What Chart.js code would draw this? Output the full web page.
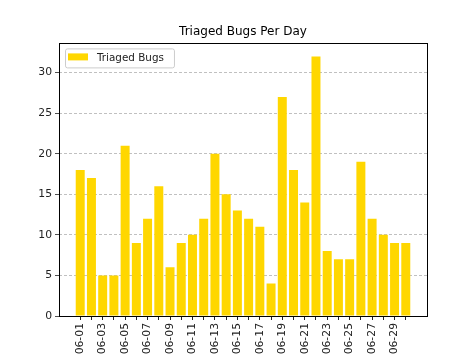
<!DOCTYPE html>
<html>
<head>
<meta charset="utf-8">
<script src="https://cdn.jsdelivr.net/npm/chart.js@4.4.0/dist/chart.umd.min.js"></script>
<style>
html,body{margin:0;padding:0;background:#fff;}
canvas{display:block;}
</style>
</head>
<body>
<canvas id="c" width="474" height="355"></canvas>
<script>
const categories = ["06-01","06-02","06-03","06-04","06-05","06-06","06-07","06-08","06-09","06-10",
  "06-11","06-12","06-13","06-14","06-15","06-16","06-17","06-18","06-19","06-20",
  "06-21","06-22","06-23","06-24","06-25","06-26","06-27","06-28","06-29","06-30"];
const triagedBugs = [18,17,5,5,21,9,12,16,6,9,10,12,20,15,13,12,11,4,27,18,14,32,8,7,7,19,12,10,9,9];
const yTicks = [0,5,10,15,20,25,30];
const seriesLabel = "Triaged Bugs";
const chartTitle = "Triaged Bugs Per Day";

const FONT = "'DejaVu Sans', sans-serif";
const n = categories.length;
const margin = 0.05 * ((n - 1 + 0.4) - (-0.4));
const yMax = Math.max(...triagedBugs) * 1.05;

const framePlugin = {
  id: 'frame',
  afterDraw(chart) {
    const {ctx, chartArea: a} = chart;
    ctx.save();
    ctx.strokeStyle = '#000';
    ctx.lineWidth = 1;
    ctx.strokeRect(Math.round(a.left) + 0.5, Math.round(a.top) + 0.5,
      Math.round(a.right - a.left), Math.round(a.bottom - a.top));
    // legend inside axes, upper left
    const ds = chart.data.datasets[0];
    const bx = a.left + 6, by = a.top + 5;
    ctx.font = "10.4px " + FONT;
    const tw = ctx.measureText(ds.label).width;
    const bw = 8 + 20 + 8 + tw + 6, bh = 19;
    ctx.fillStyle = 'rgba(255,255,255,0.8)';
    ctx.strokeStyle = '#cccccc';
    ctx.beginPath();
    ctx.roundRect(bx + 0.5, by + 0.5, bw, bh, 2);
    ctx.fill();
    ctx.stroke();
    ctx.fillStyle = ds.backgroundColor;
    ctx.fillRect(bx + 3, by + 5, 20, 7);
    ctx.fillStyle = '#222';
    ctx.textBaseline = 'middle';
    ctx.textAlign = 'left';
    ctx.fillText(ds.label, bx + 32, by + 9.5);
    ctx.restore();
  }
};

new Chart(document.getElementById('c'), {
  type: 'bar',
  data: {
    datasets: [{
      label: seriesLabel,
      data: triagedBugs.map((v, i) => ({x: i, y: v})),
      backgroundColor: '#FFD700',
      borderWidth: 0,
      barPercentage: 0.8,
      categoryPercentage: 1.0
    }]
  },
  options: {
    responsive: false,
    animation: false,
    layout: {padding: {left: 0, right: 47, top: 0, bottom: 0}},
    plugins: {
      legend: {display: false},
      tooltip: {enabled: false},
      title: {
        display: true,
        text: chartTitle,
        fullSize: false,
        color: '#000',
        font: {family: FONT, size: 12, weight: 'normal'},
        padding: {top: 25, bottom: 4}
      }
    },
    scales: {
      x: {
        type: 'linear',
        min: -0.4 - margin,
        max: n - 1 + 0.4 + margin,
        offset: false,
        afterBuildTicks(scale) {
          scale.ticks = categories.map((c, i) => ({value: i}));
        },
        afterFit(scale) { scale.height = 39; },
        ticks: {
          autoSkip: false,
          minRotation: 90,
          maxRotation: 90,
          padding: 3,
          color: '#222',
          font: {family: FONT, size: 10.8},
          callback: (v) => (Number.isInteger(v) && v % 2 === 0) ? categories[v] : ''
        },
        grid: {display: true, drawOnChartArea: false, drawTicks: true, tickLength: 4, tickColor: '#222', offset: false},
        border: {display: false}
      },
      y: {
        min: 0,
        max: yMax,
        afterBuildTicks(scale) {
          scale.ticks = yTicks.map(v => ({value: v}));
        },
        afterFit(scale) { scale.width = 59; },
        ticks: {
          padding: 3,
          color: '#222',
          font: {family: FONT, size: 10.8}
        },
        grid: {
          display: true,
          color: '#b0b0b0',
          lineWidth: 0.8,
          tickColor: '#222',
          tickLength: 4,
          drawTicks: true
        },
        border: {display: false, dash: [3, 2]}
      }
    }
  },
  plugins: [framePlugin]
});
</script>
</body>
</html>
